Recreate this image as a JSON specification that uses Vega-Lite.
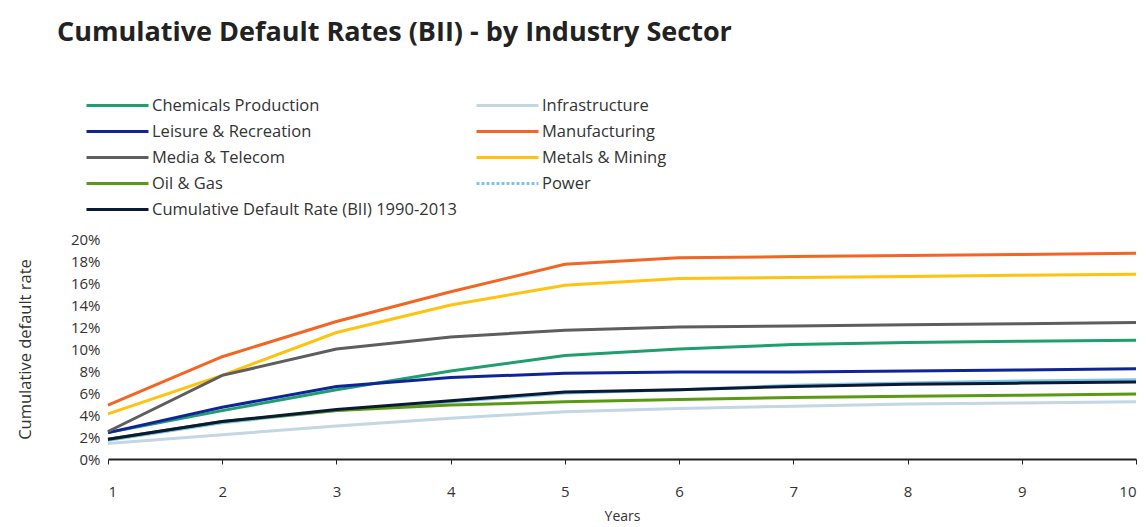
{
  "$schema": "https://vega.github.io/schema/vega-lite/v6.json",
  "autosize": "none",
  "width": 1028,
  "height": 220,
  "padding": {"left": 108, "top": 239, "right": 10, "bottom": 68},
  "background": "white",
  "title": {
    "text": "Cumulative Default Rates (BII) - by Industry Sector",
    "anchor": "start",
    "frame": "group",
    "font": "Open Sans",
    "fontSize": 27,
    "fontWeight": "bold",
    "color": "#222222",
    "dx": -51,
    "dy": -47,
    "offset": 0
  },
  "config": {
    "view": {"stroke": null},
    "font": "Open Sans",
    "axis": {"grid": false, "labelFont": "Open Sans", "titleFont": "Open Sans", "labelColor": "#333333", "titleColor": "#333333", "titleFontWeight": "normal"},
    "legend": {"labelFont": "Open Sans", "labelFontSize": 16.5, "labelColor": "#333333", "labelLimit": 500, "symbolType": "M-1,0H5.2", "symbolSize": 400, "symbolStrokeWidth": 3, "rowPadding": 6, "labelOffset": 44, "orient": "none", "title": null}
  },
  "datasets": {
    "leftGroup": [
      {"sector": "Chemicals Production", "year": 1, "rate": 2.4},
      {"sector": "Chemicals Production", "year": 2, "rate": 4.4},
      {"sector": "Chemicals Production", "year": 3, "rate": 6.3},
      {"sector": "Chemicals Production", "year": 4, "rate": 8.0},
      {"sector": "Chemicals Production", "year": 5, "rate": 9.4},
      {"sector": "Chemicals Production", "year": 6, "rate": 10.0},
      {"sector": "Chemicals Production", "year": 7, "rate": 10.4},
      {"sector": "Chemicals Production", "year": 8, "rate": 10.6},
      {"sector": "Chemicals Production", "year": 9, "rate": 10.7},
      {"sector": "Chemicals Production", "year": 10, "rate": 10.8},
      {"sector": "Leisure & Recreation", "year": 1, "rate": 2.4},
      {"sector": "Leisure & Recreation", "year": 2, "rate": 4.7},
      {"sector": "Leisure & Recreation", "year": 3, "rate": 6.6},
      {"sector": "Leisure & Recreation", "year": 4, "rate": 7.4},
      {"sector": "Leisure & Recreation", "year": 5, "rate": 7.8},
      {"sector": "Leisure & Recreation", "year": 6, "rate": 7.9},
      {"sector": "Leisure & Recreation", "year": 7, "rate": 7.9},
      {"sector": "Leisure & Recreation", "year": 8, "rate": 8.0},
      {"sector": "Leisure & Recreation", "year": 9, "rate": 8.1},
      {"sector": "Leisure & Recreation", "year": 10, "rate": 8.2},
      {"sector": "Media & Telecom", "year": 1, "rate": 2.5},
      {"sector": "Media & Telecom", "year": 2, "rate": 7.6},
      {"sector": "Media & Telecom", "year": 3, "rate": 10.0},
      {"sector": "Media & Telecom", "year": 4, "rate": 11.1},
      {"sector": "Media & Telecom", "year": 5, "rate": 11.7},
      {"sector": "Media & Telecom", "year": 6, "rate": 12.0},
      {"sector": "Media & Telecom", "year": 7, "rate": 12.1},
      {"sector": "Media & Telecom", "year": 8, "rate": 12.2},
      {"sector": "Media & Telecom", "year": 9, "rate": 12.3},
      {"sector": "Media & Telecom", "year": 10, "rate": 12.4},
      {"sector": "Oil & Gas", "year": 1, "rate": 1.8},
      {"sector": "Oil & Gas", "year": 2, "rate": 3.4},
      {"sector": "Oil & Gas", "year": 3, "rate": 4.4},
      {"sector": "Oil & Gas", "year": 4, "rate": 4.9},
      {"sector": "Oil & Gas", "year": 5, "rate": 5.2},
      {"sector": "Oil & Gas", "year": 6, "rate": 5.4},
      {"sector": "Oil & Gas", "year": 7, "rate": 5.6},
      {"sector": "Oil & Gas", "year": 8, "rate": 5.7},
      {"sector": "Oil & Gas", "year": 9, "rate": 5.8},
      {"sector": "Oil & Gas", "year": 10, "rate": 5.9},
      {"sector": "Cumulative Default Rate (BII) 1990-2013", "year": 1, "rate": 1.8},
      {"sector": "Cumulative Default Rate (BII) 1990-2013", "year": 2, "rate": 3.4},
      {"sector": "Cumulative Default Rate (BII) 1990-2013", "year": 3, "rate": 4.5},
      {"sector": "Cumulative Default Rate (BII) 1990-2013", "year": 4, "rate": 5.3},
      {"sector": "Cumulative Default Rate (BII) 1990-2013", "year": 5, "rate": 6.1},
      {"sector": "Cumulative Default Rate (BII) 1990-2013", "year": 6, "rate": 6.3},
      {"sector": "Cumulative Default Rate (BII) 1990-2013", "year": 7, "rate": 6.6},
      {"sector": "Cumulative Default Rate (BII) 1990-2013", "year": 8, "rate": 6.8},
      {"sector": "Cumulative Default Rate (BII) 1990-2013", "year": 9, "rate": 6.9},
      {"sector": "Cumulative Default Rate (BII) 1990-2013", "year": 10, "rate": 7.0}
    ],
    "rightGroup": [
      {"sector": "Infrastructure", "year": 1, "rate": 1.4},
      {"sector": "Infrastructure", "year": 2, "rate": 2.2},
      {"sector": "Infrastructure", "year": 3, "rate": 3.0},
      {"sector": "Infrastructure", "year": 4, "rate": 3.7},
      {"sector": "Infrastructure", "year": 5, "rate": 4.3},
      {"sector": "Infrastructure", "year": 6, "rate": 4.6},
      {"sector": "Infrastructure", "year": 7, "rate": 4.8},
      {"sector": "Infrastructure", "year": 8, "rate": 5.0},
      {"sector": "Infrastructure", "year": 9, "rate": 5.1},
      {"sector": "Infrastructure", "year": 10, "rate": 5.2},
      {"sector": "Manufacturing", "year": 1, "rate": 4.9},
      {"sector": "Manufacturing", "year": 2, "rate": 9.3},
      {"sector": "Manufacturing", "year": 3, "rate": 12.5},
      {"sector": "Manufacturing", "year": 4, "rate": 15.2},
      {"sector": "Manufacturing", "year": 5, "rate": 17.7},
      {"sector": "Manufacturing", "year": 6, "rate": 18.3},
      {"sector": "Manufacturing", "year": 7, "rate": 18.4},
      {"sector": "Manufacturing", "year": 8, "rate": 18.5},
      {"sector": "Manufacturing", "year": 9, "rate": 18.6},
      {"sector": "Manufacturing", "year": 10, "rate": 18.7},
      {"sector": "Metals & Mining", "year": 1, "rate": 4.1},
      {"sector": "Metals & Mining", "year": 2, "rate": 7.6},
      {"sector": "Metals & Mining", "year": 3, "rate": 11.5},
      {"sector": "Metals & Mining", "year": 4, "rate": 14.0},
      {"sector": "Metals & Mining", "year": 5, "rate": 15.8},
      {"sector": "Metals & Mining", "year": 6, "rate": 16.4},
      {"sector": "Metals & Mining", "year": 7, "rate": 16.5},
      {"sector": "Metals & Mining", "year": 8, "rate": 16.6},
      {"sector": "Metals & Mining", "year": 9, "rate": 16.7},
      {"sector": "Metals & Mining", "year": 10, "rate": 16.8},
      {"sector": "Power", "year": 1, "rate": 1.7},
      {"sector": "Power", "year": 2, "rate": 3.3},
      {"sector": "Power", "year": 3, "rate": 4.4},
      {"sector": "Power", "year": 4, "rate": 5.2},
      {"sector": "Power", "year": 5, "rate": 6.0},
      {"sector": "Power", "year": 6, "rate": 6.3},
      {"sector": "Power", "year": 7, "rate": 6.7},
      {"sector": "Power", "year": 8, "rate": 6.9},
      {"sector": "Power", "year": 9, "rate": 7.1},
      {"sector": "Power", "year": 10, "rate": 7.2}
    ]
  },
  "encoding": {
    "x": {
      "field": "year",
      "type": "quantitative",
      "scale": {"domain": [1, 10], "nice": false, "zero": false},
      "axis": {
        "title": "Years",
        "values": [1, 2, 3, 4, 5, 6, 7, 8, 9, 10],
        "domainColor": "#222222",
        "domainWidth": 2,
        "tickColor": "#222222",
        "tickSize": 5,
        "labelFontSize": 15,
        "labelPadding": 20,
        "titleFontSize": 14,
        "titlePadding": 10
      }
    },
    "y": {
      "field": "rate",
      "type": "quantitative",
      "scale": {"domain": [0, 20], "nice": false},
      "axis": {
        "title": "Cumulative default rate",
        "values": [0, 2, 4, 6, 8, 10, 12, 14, 16, 18, 20],
        "labelExpr": "datum.value + '%'",
        "domain": false,
        "ticks": false,
        "labelFontSize": 15,
        "labelPadding": 8,
        "titleFontSize": 16.5,
        "titlePadding": 37
      }
    }
  },
  "layer": [
    {
      "data": {"name": "rightGroup"},
      "mark": {"type": "line", "strokeWidth": 3},
      "encoding": {
        "color": {
          "field": "sector",
          "type": "nominal",
          "scale": {
            "domain": ["Infrastructure", "Manufacturing", "Metals & Mining", "Power"],
            "range": ["#c3d6e4", "#f26522", "#ffc20e", "#7cc4ee"]
          },
          "legend": {
            "legendX": 367,
            "legendY": -145,
            "symbolType": "M-1,0H5.2",
            "encode": {"symbols": {"update": {"strokeDash": {"signal": "datum.label === 'Power' ? [3, 2] : [1, 0]"}}}}
          }
        }
      }
    },
    {
      "data": {"name": "leftGroup"},
      "mark": {"type": "line", "strokeWidth": 3},
      "encoding": {
        "color": {
          "field": "sector",
          "type": "nominal",
          "scale": {
            "domain": ["Chemicals Production", "Leisure & Recreation", "Media & Telecom", "Oil & Gas", "Cumulative Default Rate (BII) 1990-2013"],
            "range": ["#1f9e6e", "#10249a", "#5e5e5e", "#5a9a12", "#0b1a33"]
          },
          "legend": {"legendX": -23, "legendY": -145, "symbolType": "M-1,0H5.2"}
        }
      }
    }
  ],
  "resolve": {"scale": {"color": "independent"}, "legend": {"color": "independent"}}
}
